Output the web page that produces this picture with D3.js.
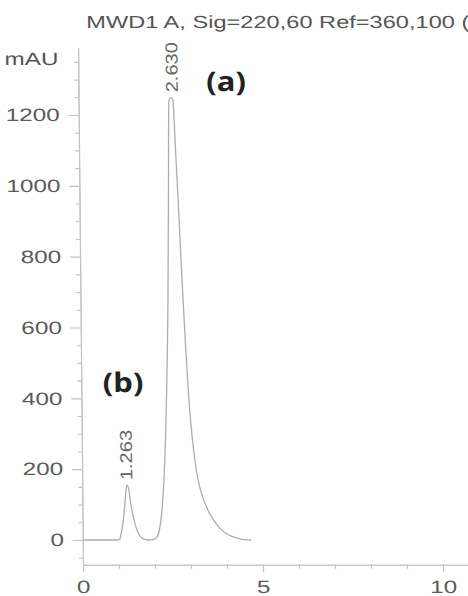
<!DOCTYPE html>
<html>
<head>
<meta charset="utf-8">
<script src="https://cdn.jsdelivr.net/npm/d3@7"></script>
<style>
body { margin: 0; background: #fff; }
svg { display: block; font-family: "Liberation Sans", Arial, sans-serif; }
</style>
</head>
<body>
<div id="chart-area"></div>
<script>
// values
const title = "MWD1 A, Sig=220,60 Ref=360,100 (";
const yUnit = "mAU";
const times  = [0, 0.5, 0.95, 1.03, 1.06, 1.13, 1.18, 1.22, 1.25, 1.29, 1.34, 1.43, 1.57, 1.68, 1.8, 1.95,
                2.06, 2.13, 2.2, 2.27, 2.37, 2.43, 2.47, 2.51, 2.57, 2.62, 2.68, 2.74, 2.8, 2.85, 2.91,
                2.97, 3.04, 3.12, 3.22, 3.32, 3.42, 3.53, 3.65, 3.77, 3.9, 4.05, 4.2, 4.35, 4.5, 4.68];
const signal = [0, 0, 0, 3, 14, 56, 104, 145, 155, 143, 104, 56, 14, 3, 0, 1,
                8, 28, 76, 169, 424, 678, 960, 1242, 1250, 1242, 1100, 960, 800, 678, 540,
                424, 320, 240, 169, 128, 100, 75, 55, 38, 25, 15, 8, 4, 1, 0];
const peakRt = [1.263, 2.630];
const peakHeight = [155, 1250];
const peakNames = ["(b)", "(a)"];
const nameTimes = [1.16, 4.1];
const nameValues = [418, 1268];
const yTicks = [0, 200, 400, 600, 800, 1000, 1200];
const xTicks = [0, 5, 10];

const w = 468;
const h = 596;
const stretch = 1.35;   // the scan is wider than it is tall

const xScale = d3.scaleLinear().domain([0, 10.7]).range([77.6, 462.8]);
const yScale = d3.scaleLinear().domain([-70, 1390]).range([564.8, 47.7]);

const svg = d3.select("#chart-area")
    .append("svg")
    .attr("width", w)
    .attr("height", h);

// the photographed page leans a little to the right
const g = svg.append("g").attr("transform", "skewX(0.55)");

g.append("text")
    .attr("transform", "translate(86,28) scale(" + stretch + ",1)")
    .attr("font-size", 17.5)
    .attr("fill", "#555")
    .text(title);

g.append("text")
    .attr("transform", "translate(4,65) scale(" + stretch + ",1)")
    .attr("font-size", 18)
    .attr("fill", "#555")
    .text(yUnit);

// minor ticks
const yMinor = d3.range(-50, 1400, 50).filter(d => d % 200 !== 0);
const xMinor = d3.range(1, 11, 1).filter(d => d % 5 !== 0);

g.append("g")
    .attr("transform", "translate(" + xScale(0) + ",0)")
    .call(d3.axisLeft(yScale).tickValues(yMinor).tickSize(4).tickSizeOuter(0).tickFormat(""));

g.append("g")
    .attr("transform", "translate(0," + yScale(-70) + ")")
    .call(d3.axisBottom(xScale).tickValues(xMinor).tickSize(4).tickSizeOuter(0).tickFormat(""));

const yAxis = g.append("g")
    .attr("id", "y-axis")
    .attr("transform", "translate(" + xScale(0) + ",0)")
    .call(d3.axisLeft(yScale).tickValues(yTicks).tickFormat(d3.format("d"))
        .tickSize(10).tickSizeOuter(0).tickPadding(4));

const xAxis = g.append("g")
    .attr("id", "x-axis")
    .attr("transform", "translate(0," + yScale(-70) + ")")
    .call(d3.axisBottom(xScale).tickValues(xTicks).tickFormat(d3.format("d"))
        .tickSize(7).tickSizeOuter(0).tickPadding(8));

g.selectAll(".domain, .tick line")
    .attr("stroke", "#c2c2c2")
    .attr("stroke-width", 1.1);

[yAxis, xAxis].forEach(ax => {
    ax.selectAll("text")
        .attr("font-size", 18)
        .attr("font-family", "Liberation Sans, Arial, sans-serif")
        .attr("fill", "#5a5a5a")
        .attr("transform", "scale(" + stretch + ",1)");
});

// the trace
const line = d3.line()
    .x((d, i) => xScale(times[i]))
    .y(d => yScale(d))
    .curve(d3.curveMonotoneX);

g.append("path")
    .datum(signal)
    .attr("d", line)
    .attr("fill", "none")
    .attr("stroke", "#adadad")
    .attr("stroke-width", 1.3);

// retention time labels above each peak
g.selectAll(".rt")
    .data(peakRt)
    .enter()
    .append("text")
    .attr("class", "rt")
    .attr("transform", (d, i) => "translate(" + (xScale(d) + 4.5) + "," + (yScale(peakHeight[i]) - 5) + ") rotate(-90) scale(1.18,1)")
    .attr("font-size", 17)
    .attr("fill", "#666")
    .text(d => d3.format(".3f")(d));

// peak names
g.selectAll(".name")
    .data(peakNames)
    .enter()
    .append("text")
    .attr("class", "name")
    .attr("transform", (d, i) => "translate(" + xScale(nameTimes[i]) + "," + yScale(nameValues[i]) + ") scale(1.15,1)")
    .attr("text-anchor", "middle")
    .attr("font-family", "Open Sans, sans-serif")
    .attr("font-weight", 700)
    .attr("font-size", 27)
    .attr("fill", "#222")
    .text(d => d);
</script>
</body>
</html>
